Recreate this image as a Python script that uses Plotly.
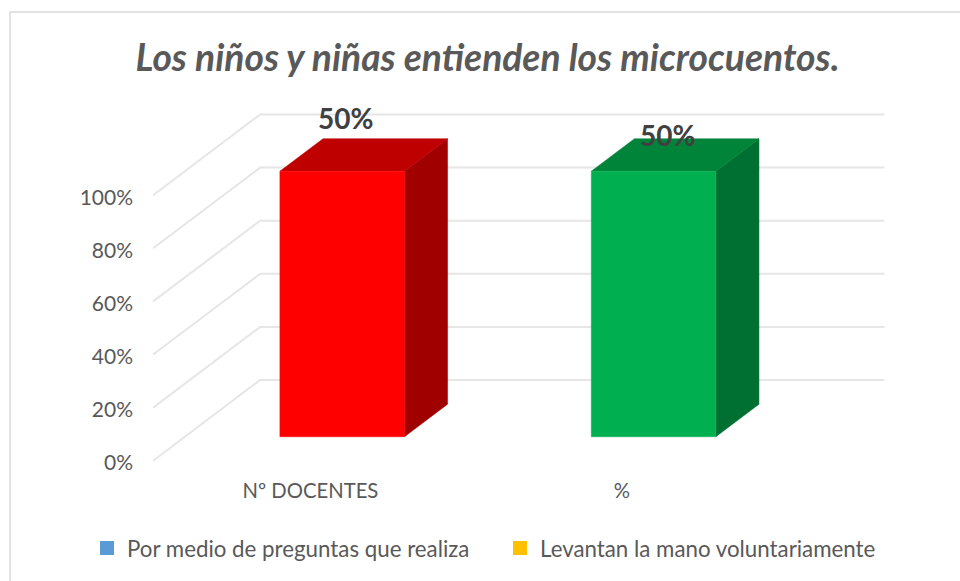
import plotly.graph_objects as go

# ---- data ----
categories = ["Nº DOCENTES", "%"]
bar_heights = [100, 100]
bar_labels = ["50%", "50%"]
y_ticks = [0, 20, 40, 60, 80, 100]
y_tick_labels = ["0%", "20%", "40%", "60%", "80%", "100%"]
legend_names = ["Por medio de preguntas que realiza", "Levantan la mano voluntariamente"]
legend_colors = ["#5B9BD5", "#FFC000"]
front_colors = ["#FF0000", "#00B050"]
top_colors = ["#BF0000", "#008439"]
side_colors = ["#A00000", "#007032"]
title = "Los niños y niñas entienden los microcuentos."

# ---- page geometry (pixels) ----
W, H = 960, 581
L, R, T, B = 134, 900, 100, 477
X0, XU = 310.4, 311.4    # px of category 0, px per category
Y0, YU = 460.7, 2.655    # px of value 0, px per value unit
DX, DY = 107 / XU, 80.7 / YU  # depth vector of the floor in data units
BAR_W = 0.4
D_FRONT, D_BACK = 0.297, 0.70

FONT = "Lato"
GREY = "#595959"
GRID = "#E6E6E6"


def proj(x, y, d):
    return x + d * DX, y + d * DY


fig = go.Figure()


def poly(points, color):
    xs, ys = zip(*points)
    fig.add_trace(go.Scatter(x=list(xs) + [xs[0]], y=list(ys) + [ys[0]], mode="lines", fill="toself",
                             fillcolor=color, line=dict(color=color, width=0.5),
                             showlegend=False, hoverinfo="skip"))


# back wall gridlines and floor/side diagonals
x_left, x_right = -0.505, len(categories) - 0.5
for t in y_ticks:
    a = proj(x_left, t, 0)
    b = proj(x_left, t, 1)
    c = proj(x_right, t, 1)
    fig.add_trace(go.Scatter(x=[a[0], b[0], c[0]], y=[a[1], b[1], c[1]], mode="lines",
                             line=dict(color=GRID, width=2), showlegend=False, hoverinfo="skip"))

# bars as oblique boxes
for i, v in enumerate(bar_heights):
    xl, xr = i - BAR_W / 2, i + BAR_W / 2
    poly([proj(xr, 0, D_FRONT), proj(xr, 0, D_BACK), proj(xr, v, D_BACK), proj(xr, v, D_FRONT)], side_colors[i])
    poly([proj(xl, v, D_FRONT), proj(xr, v, D_FRONT), proj(xr, v, D_BACK), proj(xl, v, D_BACK)], top_colors[i])
    poly([proj(xl, 0, D_FRONT), proj(xr, 0, D_FRONT), proj(xr, v, D_FRONT), proj(xl, v, D_FRONT)], front_colors[i])

# legend entries
for name, color in zip(legend_names, legend_colors):
    fig.add_trace(go.Scatter(x=[None], y=[None], mode="markers", name=name,
                             marker=dict(symbol="square", size=14, color=color)))

# data labels
label_px = [(345.5, 117.5), (667, 135)]
for text, (px, py) in zip(bar_labels, label_px):
    fig.add_annotation(x=(px - X0) / XU, y=(Y0 - py) / YU, text=f"<b>{text}</b>", showarrow=False,
                       xanchor="center", yanchor="middle",
                       font=dict(family=FONT, size=28, color="#404040"))

# chart-area frame: only left and top edges are visible in the picture
fig.add_shape(type="line", xref="paper", yref="paper", x0=(10 - L) / (R - L), x1=(10 - L) / (R - L),
              y0=(B - 581) / (B - T), y1=(B - 12) / (B - T), line=dict(color="#D9D9D9", width=1.5))
fig.add_shape(type="line", xref="paper", yref="paper", x0=(10 - L) / (R - L), x1=(960 - L) / (R - L),
              y0=(B - 12) / (B - T), y1=(B - 12) / (B - T), line=dict(color="#D9D9D9", width=1.5))

fig.update_layout(
    width=W, height=H, autosize=False,
    margin=dict(l=L, r=W - R, t=T, b=H - B, pad=0),
    paper_bgcolor="white", plot_bgcolor="white",
    font=dict(family=FONT, color=GREY, size=20),
    title=dict(text=f"<b><i>{title}</i></b>", x=487.5 / W, xref="container", xanchor="center",
               y=1 - 58 / H, yref="container", yanchor="middle",
               font=dict(family=FONT, size=37.2, color=GREY)),
    xaxis=dict(range=[(L - X0) / XU, (R - X0) / XU], tickvals=list(range(len(categories))), ticktext=categories,
               showgrid=False, zeroline=False, showline=False, ticks="", tickfont=dict(size=20.3, color=GREY),
               fixedrange=True),
    yaxis=dict(range=[(Y0 - B) / YU, (Y0 - T) / YU], tickvals=y_ticks, ticktext=y_tick_labels,
               showgrid=False, zeroline=False, showline=False, ticks="", tickfont=dict(size=21, color=GREY),
               ticklabelshift=2, fixedrange=True),
    legend=dict(orientation="h", x=(87 - L) / (R - L), xanchor="left", y=(B - 548) / (B - T), yanchor="middle",
                font=dict(size=22.3, color=GREY), bgcolor="rgba(0,0,0,0)", itemclick=False, itemdoubleclick=False,
                entrywidth=368, entrywidthmode="pixels"),
    showlegend=True,
)
fig.write_html("out.html", config={"displayModeBar": False},
               post_script="document.body.style.margin='0';")
